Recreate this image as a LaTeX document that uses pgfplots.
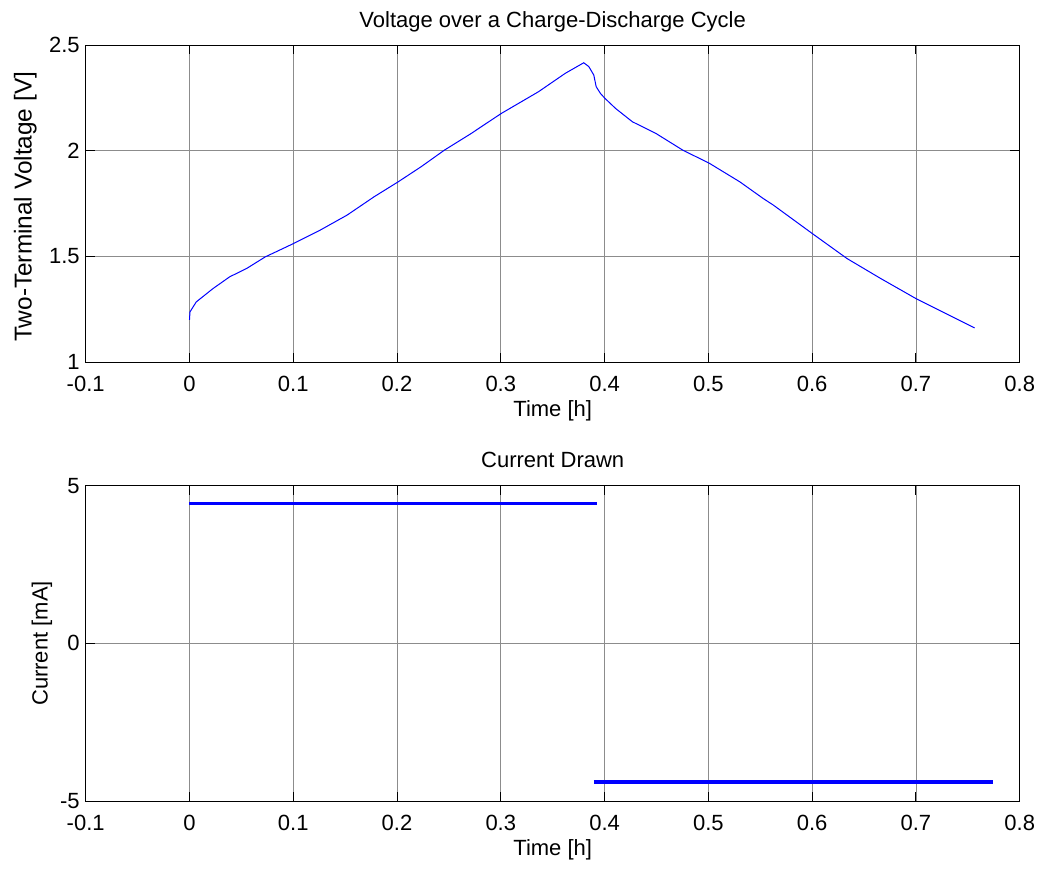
\documentclass[border=0pt]{standalone}
\usepackage{fontspec}
\setmainfont{Liberation Sans}
\usepackage{pgfplots}
\pgfplotsset{compat=1.18}

% MATLAB-like subplot look, 1px = 0.5pt
\pgfplotsset{mstyle/.style={
  scale only axis, width=467pt, anchor=north west,
  tick align=inside, major tick length=4.6pt,
  grid=major, grid style={draw=black!45, line width=0.4pt},
  axis line style={line width=0.5pt},
  every tick/.style={black, line width=0.5pt},
  font=\fontsize{11}{13}\selectfont,
  tick label style={font=\fontsize{11}{13}\selectfont},
  /pgf/number format/assume math mode=true,
  xmin=-0.1, xmax=0.8,
  xtick={-0.1,0,0.1,0.2,0.3,0.4,0.5,0.6,0.7,0.8},
  xticklabels={-0.1,0,0.1,0.2,0.3,0.4,0.5,0.6,0.7,0.8},
  xticklabel style={anchor=base, yshift=-14.7pt},
  yticklabel style={anchor=east, inner sep=0pt, xshift=-2.8pt},
  title style={at={(0.5,1)}, anchor=base, yshift=3pt},
  xlabel={Time [h]},
  xlabel style={at={(0.5,0)}, anchor=base, yshift=-27pt},
}}

\begin{document}
\begin{tikzpicture}
\useasboundingbox (0,0) rectangle (518.5pt,-434.5pt);

\begin{axis}[mstyle,
  at={(42.85pt,-22.5pt)}, height=158.6pt,
  ymin=1, ymax=2.5, ytick={1,1.5,2,2.5},
  yticklabels={1,1.5,2,2.5},
  title={Voltage over a Charge-Discharge Cycle},
  ylabel={Two-Terminal Voltage [V]},
  ylabel style={at={(-0.0578,0.49)}, anchor=base, font=\fontsize{12.2}{14}\selectfont},
]
\addplot[blue, line width=0.5pt] coordinates {
  (0,1.200)(0.0005,1.238)(0.0065,1.285)(0.0226,1.348)(0.0388,1.404)
  (0.055,1.443)(0.073,1.498)(0.1002,1.561)(0.1261,1.625)(0.152,1.696)
  (0.1778,1.782)(0.2011,1.853)(0.2231,1.924)(0.2457,2.003)(0.2716,2.082)
  (0.2813,2.114)(0.3007,2.177)(0.3363,2.279)(0.3621,2.366)(0.3799,2.416)
  (0.3848,2.398)(0.3896,2.358)(0.3919,2.303)(0.396,2.271)(0.4003,2.248)
  (0.4106,2.200)(0.4268,2.137)(0.4494,2.082)(0.4753,2.003)(0.5012,1.940)
  (0.5303,1.853)(0.5529,1.774)(0.5626,1.743)(0.6014,1.604)(0.6337,1.490)
  (0.666,1.396)(0.70,1.301)(0.7565,1.162)
};
\end{axis}

\begin{axis}[mstyle,
  at={(42.85pt,-242.8pt)}, height=157.8pt,
  ymin=-5, ymax=5, ytick={-5,0,5},
  yticklabels={-5,0,5},
  title={Current Drawn},
  ylabel={Current [mA]},
  ylabel style={at={(-0.0407,0.5)}, anchor=base},
]
\addplot[blue, line width=1.8pt] coordinates {(0,4.43)(0.393,4.43)};
\addplot[blue, line width=1.8pt] coordinates {(0.3896,-4.4)(0.774,-4.4)};
\end{axis}
\end{tikzpicture}
\end{document}
